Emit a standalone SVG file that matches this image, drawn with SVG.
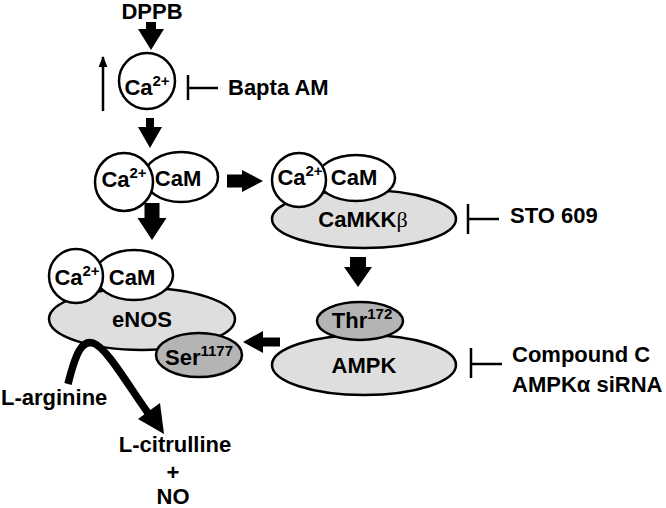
<svg xmlns="http://www.w3.org/2000/svg" width="666" height="508" viewBox="0 0 666 508">
<defs>
<style>
text{font-family:"Liberation Sans",Arial,sans-serif;font-weight:bold;fill:#000}
.t22{font-size:22px}
.t21{font-size:22px}
.sup{font-size:15px}
.beta{font-family:"Liberation Serif","Times New Roman",serif;font-weight:normal}
.wh{fill:#fff;stroke:#000;stroke-width:2.5}
.lg{fill:#dedede;stroke:#000;stroke-width:2.5}
.dg{fill:#b4b4b4;stroke:#000;stroke-width:2.5}
.inh{fill:none;stroke:#000;stroke-width:2.5}
.blk{fill:#000;stroke:none}
</style>
<marker id="thin" viewBox="0 0 10 10" refX="9" refY="5" markerWidth="11" markerHeight="11" markerUnits="userSpaceOnUse" orient="auto">
<path d="M0,1 L10,5 L0,9 Z" fill="#000"/>
</marker>
</defs>

<g id="dppb"><text class="t22" x="152" y="19" text-anchor="middle">DPPB</text></g>

<g id="ca1">
<circle class="wh" cx="147" cy="81" r="28"/>
<text class="t21" x="147" y="95" text-anchor="middle">Ca<tspan class="sup" dy="-9">2+</tspan></text>
</g>

<g id="bapta"><text class="t22" x="228" y="95">Bapta AM</text></g>

<g id="cacam1">
<ellipse class="wh" cx="181" cy="177" rx="37" ry="25"/>
<circle class="wh" cx="124" cy="182" r="29"/>
<text class="t21" x="124" y="187" text-anchor="middle">Ca<tspan class="sup" dy="-9">2+</tspan></text>
<text class="t21" x="178" y="186" text-anchor="middle">CaM</text>
</g>

<g id="camkk">
<ellipse class="lg" cx="364" cy="219" rx="92" ry="29"/>
<ellipse class="wh" cx="356" cy="178" rx="39" ry="23"/>
<circle class="wh" cx="299" cy="180" r="27"/>
<text class="t21" x="300" y="185" text-anchor="middle">Ca<tspan class="sup" dy="-9">2+</tspan></text>
<text class="t21" x="354" y="185" text-anchor="middle">CaM</text>
<text class="t22" x="363" y="227" text-anchor="middle">CaMKK<tspan class="beta">β</tspan></text>
</g>

<g id="sto"><text class="t22" x="510" y="223">STO 609</text></g>

<g id="ampk">
<ellipse class="lg" cx="364" cy="365" rx="92" ry="30"/>
<ellipse class="dg" cx="360" cy="321" rx="43" ry="19"/>
<text class="t22" x="362" y="328" text-anchor="middle">Thr<tspan class="sup" dy="-9">172</tspan></text>
<text class="t22" x="364" y="373" text-anchor="middle">AMPK</text>
</g>

<g id="compound">
<text class="t22" x="512" y="362">Compound C</text>
<text class="t22" x="512" y="392">AMPKα siRNA</text>
</g>

<g id="enos">
<ellipse class="lg" cx="142" cy="319" rx="93" ry="31"/>
<ellipse class="wh" cx="134" cy="275" rx="39" ry="25"/>
<circle class="wh" cx="76" cy="276" r="27"/>
<text class="t21" x="77" y="285" text-anchor="middle">Ca<tspan class="sup" dy="-9">2+</tspan></text>
<text class="t21" x="132" y="285" text-anchor="middle">CaM</text>
<text class="t22" x="142" y="327" text-anchor="middle">eNOS</text>
<ellipse class="dg" cx="199" cy="355" rx="43" ry="22"/>
<text class="t22" x="199" y="365" text-anchor="middle">Ser<tspan class="sup" dy="-9">1177</tspan></text>
</g>

<g id="larg"><text class="t22" x="1" y="405">L-arginine</text></g>
<g id="lcit">
<text class="t22" x="175" y="452" text-anchor="middle">L-citrulline</text>
<text class="t22" x="173" y="480" text-anchor="middle">+</text>
<text class="t22" x="173" y="504" text-anchor="middle">NO</text>
</g>

<g id="connectors">
<polygon class="blk" points="146,22 156,22 156,29 164,29 151,50 138,29 146,29"/>
<polygon class="blk" points="146,118 154,118 154,127 162,127 150,148 138,127 146,127"/>
<polygon class="blk" points="144.5,203 159.5,203 159.5,218 166.5,218 152,240 137.5,218 144.5,218"/>
<polygon class="blk" points="227,174.5 242,174.5 242,170 263,181 242,192 242,187.5 227,187.5"/>
<polygon class="blk" points="350,257 366,257 366,267 372,267 358,287 344,267 350,267"/>
<polygon class="blk" points="280,337.5 263,337.5 263,331 243,342 263,353 263,346.5 280,346.5"/>
<line x1="103" y1="111" x2="103" y2="57" stroke="#000" stroke-width="2.5" marker-end="url(#thin)"/>
<path class="inh" d="M188,75 V100 M188,88 H218"/>
<path class="inh" d="M468,204 V234 M468,219 H499"/>
<path class="inh" d="M471,348 V378 M471,364 H502"/>
<path d="M68,384 C76,352 82,340 93,343 C106,347 126,382 148,413" fill="none" stroke="#000" stroke-width="7.5"/>
<polygon class="blk" points="164,434 160,403 138,419"/>
</g>
</svg>
